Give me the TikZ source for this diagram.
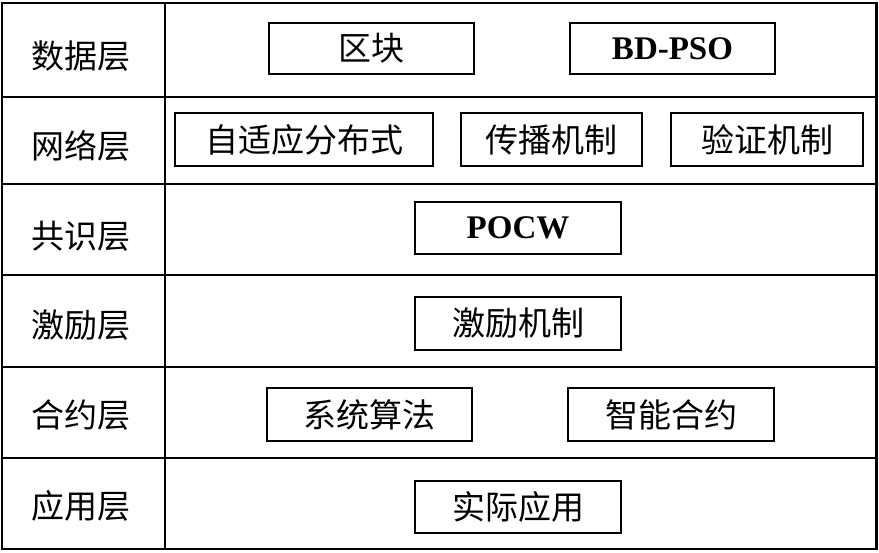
\documentclass[tikz,border=0pt]{standalone}
\usepackage{fontspec}
\setmainfont{Liberation Serif}
\newfontfamily\cjk{Noto Sans CJK SC}
\begin{document}
\begin{tikzpicture}[x=1pt,y=-1pt,
  frame/.style={line width=2.2pt},
  itembox/.style={draw,line width=1.7pt,inner sep=0pt,anchor=center,font=\cjk\fontsize{33}{33}\selectfont},
  latinbox/.style={itembox,font=\bfseries\fontsize{33}{33}\selectfont},
  layerlabel/.style={inner sep=0pt,anchor=center,font=\cjk\fontsize{33}{33}\selectfont}]
\useasboundingbox (0,0) rectangle (879,553);
% table
\draw[frame] (2,3) rectangle (876.5,549);
\draw[frame] (165,3) -- (165,549);
\foreach \yy in {97,184,275,367,458} \draw[frame] (2,\yy) -- (876.5,\yy);
% layer labels
\node[layerlabel] (l1) at (81,56) {数据层};
\node[layerlabel] (l2) at (81,146) {网络层};
\node[layerlabel] (l3) at (81,236) {共识层};
\node[layerlabel] (l4) at (81,325) {激励层};
\node[layerlabel] (l5) at (81,415) {合约层};
\node[layerlabel] (l6) at (81,506) {应用层};
% items
\node[itembox,minimum width=205pt,minimum height=51pt] (qk) at (371.5,48.5) {区块};
\node[latinbox,minimum width=205pt,minimum height=51pt] (bd) at (672.5,48.5) {BD-PSO};
\node[itembox,minimum width=258pt,minimum height=53pt] (zsy) at (304,139.5) {自适应分布式};
\node[itembox,minimum width=181pt,minimum height=53pt] (cb) at (551.5,139.5) {传播机制};
\node[itembox,minimum width=192pt,minimum height=53pt] (yz) at (767,139.5) {验证机制};
\node[latinbox,minimum width=206pt,minimum height=52pt] (pocw) at (518,228) {POCW};
\node[itembox,minimum width=206pt,minimum height=53pt] (jl) at (518,323.5) {激励机制};
\node[itembox,minimum width=205pt,minimum height=53pt] (xt) at (369.5,414.5) {系统算法};
\node[itembox,minimum width=206pt,minimum height=53pt] (zn) at (671,414.5) {智能合约};
\node[itembox,minimum width=206pt,minimum height=52pt] (sj) at (518,507) {实际应用};
\end{tikzpicture}
\end{document}
